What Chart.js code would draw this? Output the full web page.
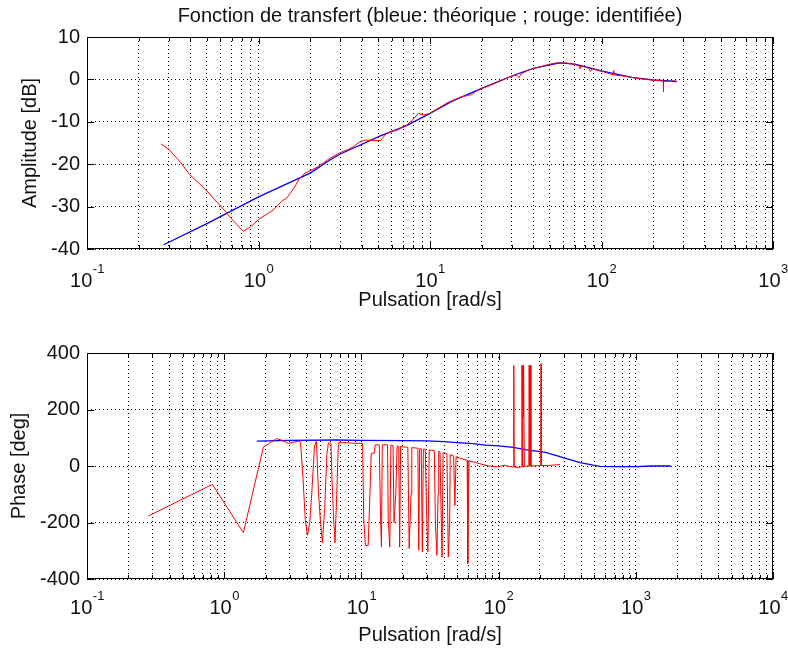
<!DOCTYPE html>
<html>
<head>
<meta charset="utf-8">
<script src="https://cdn.jsdelivr.net/npm/chart.js@4.4.0/dist/chart.umd.min.js"></script>
<style>
  body { margin: 0; background: #fff; }
  #wrap { position: relative; width: 788px; height: 653px; }
  canvas { position: absolute; left: 0; }
</style>
</head>
<body>
<div id="wrap">
  <canvas id="magChart" width="788" height="325" style="top:0"></canvas>
  <canvas id="phaseChart" width="788" height="328" style="top:325px"></canvas>
</div>
<script>
// --- data ---
// amplitude, theoretical (blue)
const wMagTheo = [0.28, 0.5, 1, 2, 2.61, 3, 5.14, 7.3, 10, 13.2, 15, 20, 30, 40, 57, 70, 100, 150, 200, 275];
const dbTheo   = [-39, -34, -27.7, -22.1, -19, -17.6, -13.3, -10.9, -8, -5.3, -4.3, -2.1, 0.8, 2.6, 3.9, 3.6, 2, 0.5, -0.1, -0.5];

// amplitude, identified (red)
const wMagId = [0.27, 0.3, 0.35, 0.398, 0.45, 0.5, 0.545, 0.6, 0.68, 0.75, 0.815, 0.89, 1.02, 1.22, 1.36, 1.46, 1.6, 1.74, 1.87,
  2.2, 2.61, 2.98, 3.3, 3.6, 3.9, 4.2, 4.7, 5.14, 5.6, 6.45, 7.3, 7.9, 8.55, 9.2, 10, 11, 12.8, 15, 16.5, 17.5, 18.5, 20,
  23, 26, 30, 32, 33, 34, 38, 45, 50, 55, 62, 70, 74, 75, 76, 85, 86, 88, 100, 117, 118, 119, 135, 153, 180, 200, 215,
  229, 229, 231, 250, 265, 275];
const dbId = [-15.2, -16.5, -19.5, -22.5, -24.5, -26.3, -28, -29.8, -32.4, -34.3, -35.8, -34.9, -32.8, -30.8, -28.8, -28, -25.8, -23.3, -22.1,
  -20.7, -18.6, -17.3, -16.6, -15.8, -14.7, -14.3, -14.4, -14.4, -12.7, -11.9, -10.8, -9.6, -8.0, -8.4, -8.0, -7.0, -5.4, -4.2, -3.8, -3.6, -2.8, -2.2,
  -1.2, -0.3, 0.8, 1.0, 0.4, 1.3, 2.3, 3.1, 3.6, 3.9, 3.9, 3.5, 3.2, 2.5, 3.2, 2.6, 1.9, 2.5, 1.9, 1.1, 2.1, 1.0, 0.8, 0.4, 0, -0.2, -0.3,
  -0.4, -2.9, -0.4, -0.5, -0.3, -0.6];

// phase, theoretical (blue)
const wPhTheo = [1.73, 3, 6.5, 10, 20, 30, 40, 50, 65, 80, 100, 128, 160, 220, 313, 392, 490, 550, 700, 1000, 1300, 1800];
const degTheo = [88, 91, 92, 91, 90, 89, 86, 83, 79, 74, 71, 66, 57, 48, 26, 12, 3, -1, -2, -2, 0, 0];

// phase, identified (red)
const wPhId = [0.28, 0.82, 1.38, 1.93, 2.1, 2.41, 2.6, 2.93, 3.2, 3.5,
  3.6, 3.75, 3.9, 4.05, 4.2, 4.35, 4.55,
  4.7, 4.85, 5.0, 5.2, 5.4, 5.6,
  5.75, 6.0, 6.1, 6.25, 6.42, 6.6, 6.8,
  7.5, 8.5, 9.5, 10.2, 10.4, 10.7, 11.2, 11.5, 11.8, 12.4,
  12.6, 13.5, 13.8, 14.0, 14.2,
  15.5, 15.7, 16.1, 16.4,
  17.0, 17.3, 17.8, 18.2,
  18.7, 19.0, 19.3,
  21.8, 22.3, 23.0, 23.3,
  25.8, 26.2, 26.6,
  27.3, 27.8, 28.3,
  29.2, 29.8, 30.5, 31.2,
  34.0, 34.6, 35.5, 36.2, 36.6,
  37.4, 38.0, 38.7, 39.4,
  42.0, 43.0, 44.0, 44.4,
  47, 48, 49, 52, 57, 59, 59.6, 60.3, 61, 66, 73, 85, 96, 102, 110, 120,
  128, 129, 130, 140, 147, 148, 149, 150, 151, 152, 154, 160, 166, 167, 169, 171, 172,
  190, 203, 204, 205, 230, 280];
const degId = [-177, -65, -236, 67, 78, 97, 92, 80, 84, 88,
  85, -40, -190, -245, -200, -95, 70,
  88, -80, -180, -272, -150, 40,
  82, 80, -40, -170, -272, -110, 82,
  83, 81, 80, 80, -190, -282, -282, -120, 45, 45,
  75, 75, -190, -287, 75,
  75, -190, -287, 74,
  72, -200, -100, 70,
  70, -287, 69,
  66, -292, -100, 65,
  63, -298, 62,
  61, -304, 60,
  59, -150, -304, 57,
  54, -200, -316, -100, 52,
  50, -130, -322, 47,
  44, -322, -200, 40,
  36, -140, 33, 28, 22, 20, -345, -80, 18, 14, 8, 0, -3, -2, 3, -2,
  -3, 356, -4, -6, -2, 356, -2, 356, 173, 356, -2, 0, -1, 356, -1, 356, 0,
  1, 2, 362, 1, 2, 5];

// axis ticks
const magDecades = [0.1, 1, 10, 100, 1000];
const phDecades = [0.1, 1, 10, 100, 1000, 10000];
const minorSteps = [2, 3, 4, 5, 6, 7, 8, 9];

const FONT = '"Liberation Sans", Arial, Helvetica, sans-serif';

function pts(xs, ys) {
  return xs.map((x, i) => ({x: x, y: ys[i]}));
}

function logTicks(decades) {
  const t = [];
  decades.forEach((d, i) => {
    t.push({value: d, major: true});
    if (i < decades.length - 1) minorSteps.forEach(m => t.push({value: m * d, major: false}));
  });
  return t;
}

// frame, inside tick marks and 10^n labels, MATLAB style
const frame = {
  id: 'frame',
  afterDraw(chart, args, opts) {
    const {ctx, chartArea: a, scales: {x, y}} = chart;
    ctx.save();
    ctx.strokeStyle = '#000';
    ctx.lineWidth = 1;
    ctx.beginPath();
    x.ticks.forEach(t => {
      const px = Math.round(x.getPixelForValue(t.value)) + 0.5;
      const len = t.major ? 7 : 4;
      ctx.moveTo(px, a.bottom); ctx.lineTo(px, a.bottom - len);
      ctx.moveTo(px, a.top); ctx.lineTo(px, a.top + len);
    });
    y.ticks.forEach(t => {
      const py = Math.round(y.getPixelForValue(t.value)) + 0.5;
      ctx.moveTo(a.left, py); ctx.lineTo(a.left + 7, py);
      ctx.moveTo(a.right, py); ctx.lineTo(a.right - 7, py);
    });
    ctx.stroke();
    ctx.strokeRect(Math.round(a.left) + 0.5, Math.round(a.top) + 0.5,
      Math.round(a.width) - 1, Math.round(a.height) - 1);

    // x tick labels: 10 with exponent
    const big = '20px ' + FONT, small = '13px ' + FONT;
    const base = a.bottom + opts.labelOffset;
    ctx.fillStyle = '#111';
    ctx.textBaseline = 'alphabetic';
    ctx.textAlign = 'left';
    opts.decades.forEach(v => {
      const e = String(Math.round(Math.log10(v)));
      ctx.font = big;
      const w1 = ctx.measureText('10').width;
      ctx.font = small;
      const w2 = ctx.measureText(e).width;
      const left = x.getPixelForValue(v) - (w1 + w2) / 2;
      ctx.font = big;
      ctx.fillText('10', left, base);
      ctx.font = small;
      ctx.fillText(e, left + w1 + 0.5, base - 14);
    });
    ctx.restore();
  }
};

function makeChart(id, cfg) {
  const xAxis = {
    type: 'logarithmic',
    min: cfg.decades[0],
    max: cfg.decades[cfg.decades.length - 1],
    afterBuildTicks: s => { s.ticks = logTicks(cfg.decades); },
    afterFit: s => { s.height = cfg.xAxisHeight; },
    ticks: {display: false},
    grid: {color: '#000', lineWidth: 1, drawTicks: false},
    border: {display: false, dash: [1, 3]},
    title: {
      display: true,
      text: 'Pulsation [rad/s]',
      color: '#111',
      font: {family: FONT, size: 20, lineHeight: 1.2},
      padding: {top: 0, bottom: cfg.xTitlePad}
    }
  };
  const yAxis = {
    type: 'linear',
    min: cfg.yMin,
    max: cfg.yMax,
    afterFit: s => { s.width = 87; },
    ticks: {stepSize: cfg.yStep, color: '#111', padding: 7, font: {family: FONT, size: 20}},
    grid: {color: '#000', lineWidth: 1, drawTicks: false},
    border: {display: false, dash: [1, 3]},
    title: {
      display: true,
      text: cfg.yTitle,
      color: '#111',
      font: {family: FONT, size: 20, lineHeight: 1.2},
      padding: {top: cfg.yTitlePad, bottom: 0}
    }
  };
  return new Chart(document.getElementById(id), {
    type: 'scatter',
    data: {
      datasets: [
        {label: 'identifiée', data: cfg.red, borderColor: '#ff0000', borderWidth: 1, showLine: true, pointRadius: 0, tension: 0},
        {label: 'théorique', data: cfg.blue, borderColor: '#0000ff', borderWidth: 1.3, showLine: true, pointRadius: 0, tension: 0}
      ]
    },
    options: {
      responsive: false,
      animation: false,
      layout: {padding: {left: 0, right: 15, top: cfg.padTop, bottom: 0}},
      scales: {x: xAxis, y: yAxis},
      plugins: {
        legend: {display: false},
        tooltip: {enabled: false},
        title: {
          display: !!cfg.title,
          text: cfg.title,
          fullSize: false,
          color: '#111',
          font: {family: FONT, size: 20, weight: 'normal', lineHeight: 1.2},
          padding: {top: 4, bottom: 9}
        },
        frame: {decades: cfg.decades, labelOffset: cfg.labelOffset}
      }
    },
    plugins: [frame]
  });
}

// top: amplitude
makeChart('magChart', {
  title: 'Fonction de transfert (bleue: théorique ; rouge: identifiée)',
  padTop: 0,
  decades: magDecades,
  xAxisHeight: 76,
  xTitlePad: 13,
  labelOffset: 38,
  yMin: -40, yMax: 10, yStep: 10,
  yTitle: 'Amplitude [dB]',
  yTitlePad: 18,
  red: pts(wMagId, dbId),
  blue: pts(wMagTheo, dbTheo)
});

// bottom: phase
makeChart('phaseChart', {
  title: '',
  padTop: 28,
  decades: phDecades,
  xAxisHeight: 74,
  xTitlePad: 6,
  labelOffset: 35,
  yMin: -400, yMax: 400, yStep: 200,
  yTitle: 'Phase [deg]',
  yTitlePad: 7,
  red: pts(wPhId, degId),
  blue: pts(wPhTheo, degTheo)
});
</script>
</body>
</html>
